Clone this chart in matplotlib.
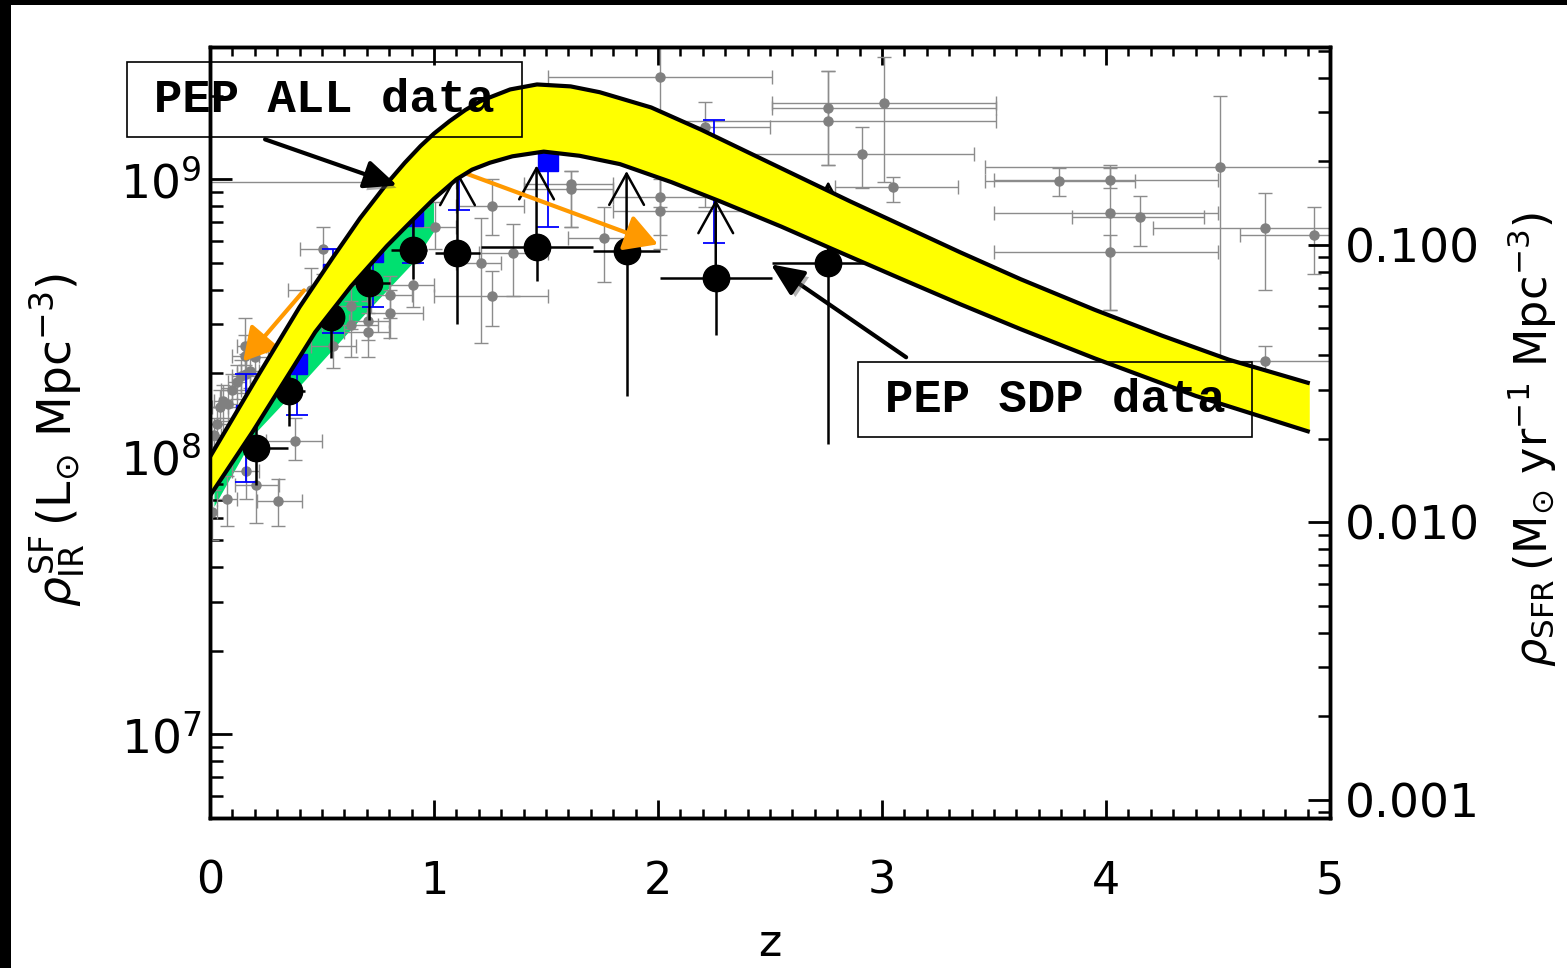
import numpy as np
import matplotlib
matplotlib.use("Agg")
import matplotlib.pyplot as plt
import matplotlib.patheffects as pe
from matplotlib.patches import Rectangle
from matplotlib.ticker import (MultipleLocator, LogLocator, FuncFormatter,
                               FixedLocator, FixedFormatter, NullFormatter)

plt.rcParams['font.family'] = ['DejaVu Sans']

# IR luminosity density, all values as log10(L_sun Mpc^-3)
# PEP ALL data: model band (upper / lower envelope)
band_up_z = [0.0, 0.22, 0.40, 0.55, 0.67, 0.79, 0.87, 0.94, 1.00, 1.07, 1.14,
             1.21, 1.34, 1.46, 1.61, 1.74, 1.97, 2.19, 2.46, 2.86, 3.35, 3.62,
             3.95, 4.25, 4.55, 4.91]
band_up = [8.00, 8.30, 8.54, 8.72, 8.86, 8.985, 9.06, 9.12, 9.165, 9.21, 9.25,
           9.283, 9.324, 9.342, 9.335, 9.314, 9.259, 9.18, 9.075, 8.92, 8.737,
           8.64, 8.53, 8.437, 8.35, 8.265]
band_lo_z = [0.0, 0.19, 0.47, 0.63, 0.79, 0.90, 1.00, 1.10, 1.17, 1.25, 1.35,
             1.49, 1.65, 1.83, 2.06, 2.28, 2.55, 2.79, 3.09, 3.35, 3.62, 3.95,
             4.40, 4.91]
band_lo = [7.86, 8.09, 8.45, 8.615, 8.76, 8.85, 8.93, 9.00, 9.035, 9.06, 9.083,
           9.10, 9.085, 9.055, 8.99, 8.92, 8.83, 8.745, 8.64, 8.55, 8.46,
           8.355, 8.22, 8.09]

# low-z band (green)
green_z = [0.02, 0.21, 0.42, 0.70, 0.91, 1.00]
green_lo = [7.82, 8.09, 8.27, 8.52, 8.70, 8.81]
green_hi = [7.90, 8.20, 8.50, 8.80, 8.97, 9.00]

# literature compilation (grey)
gray_z = [0.01, 0.02, 0.03, 0.045, 0.06, 0.08, 0.10, 0.12, 0.14, 0.16, 0.18,
          0.157, 0.157, 0.20, 0.02, 0.01, 0.076, 0.206, 0.304, 0.38, 0.16,
          0.505, 0.45, 0.63, 0.63, 0.707, 0.707, 0.805, 0.805, 0.908, 1.006,
          0.55, 0.95, 1.257, 1.208, 1.257, 1.355, 1.61, 1.61, 1.758,
          2.008, 2.008, 2.008, 2.21, 2.76, 2.76, 3.01, 2.91, 3.05,
          3.79, 4.02, 4.02, 4.02, 4.15, 4.51, 4.71, 4.93, 4.71]
gray_val = [8.02, 8.08, 8.12, 8.18, 8.20, 8.19, 8.24, 8.27, 8.29, 8.30, 8.31,
            8.362, 8.398, 8.36, 7.95, 7.80, 7.847, 7.897, 7.84, 8.059, 7.95,
            8.748, 8.60, 8.542, 8.474, 8.449, 8.49, 8.582, 8.52, 8.618, 8.827,
            8.40, 8.99, 8.903, 8.70, 8.578, 8.733, 8.982, 8.965, 8.79,
            9.368, 8.935, 8.885, 9.19, 9.256, 9.209, 9.274, 9.09, 8.971,
            8.993, 8.996, 8.88, 8.737, 8.863, 9.043, 8.823, 8.80, 8.344]
gray_zlo = [0.0, 0.0, 0.0, 0.01, 0.02, 0.04, 0.05, 0.08, 0.10, 0.12, 0.14,
            0.10, 0.12, 0.16, 0.0, 0.0, 0.03, 0.11, 0.21, 0.25, 0.10,
            0.40, 0.35, 0.55, 0.50, 0.60, 0.62, 0.70, 0.70, 0.80, 0.90,
            0.45, 0.0, 1.10, 1.10, 1.00, 1.20, 1.40, 1.40, 1.60,
            1.51, 1.80, 1.80, 2.00, 2.51, 2.00, 2.51, 1.92, 2.79,
            3.46, 3.50, 3.50, 3.50, 3.85, 3.46, 4.21, 4.60, 4.20]
gray_zhi = [0.03, 0.05, 0.06, 0.08, 0.10, 0.12, 0.14, 0.16, 0.18, 0.20, 0.22,
            0.22, 0.25, 0.26, 0.04, 0.03, 0.12, 0.31, 0.41, 0.50, 0.22,
            0.65, 0.55, 0.72, 0.75, 0.80, 0.80, 0.90, 0.95, 1.00, 1.10,
            0.65, 1.10, 1.40, 1.30, 1.51, 1.51, 1.80, 1.80, 1.90,
            2.51, 2.50, 2.50, 2.50, 3.51, 3.51, 3.51, 3.41, 3.34,
            4.13, 4.50, 4.50, 4.50, 4.44, 5.00, 5.00, 5.00, 5.00]
gray_lo = [7.96, 8.02, 8.06, 8.12, 8.14, 8.13, 8.18, 8.21, 8.23, 8.24, 8.25,
           8.30, 8.33, 8.29, 7.88, 7.70, 7.75, 7.76, 7.75, 7.99, 7.85,
           8.66, 8.52, 8.46, 8.36, 8.36, 8.42, 8.50, 8.43, 8.54, 8.75,
           8.32, 8.90, 8.80, 8.41, 8.47, 8.58, 8.83, 8.83, 8.63,
           8.90, 8.80, 8.75, 8.90, 9.05, 9.05, 8.99, 8.97, 8.92,
           8.94, 8.97, 8.53, 8.53, 8.76, 8.34, 8.60, 8.66, 8.30]
gray_hi = [8.08, 8.14, 8.18, 8.24, 8.26, 8.25, 8.30, 8.33, 8.35, 8.37, 8.38,
           8.44, 8.50, 8.42, 8.01, 7.88, 7.93, 8.00, 7.92, 8.14, 8.05,
           8.83, 8.68, 8.62, 8.56, 8.52, 8.56, 8.65, 8.60, 8.70, 8.92,
           8.48, 9.10, 9.00, 8.86, 8.67, 8.84, 9.03, 9.03, 8.90,
           9.48, 9.05, 9.00, 9.28, 9.39, 9.39, 9.44, 9.19, 9.01,
           9.04, 9.05, 9.04, 8.80, 8.94, 9.30, 8.95, 8.90, 8.40]

# blue squares
blue_z = [0.16, 0.39, 0.55, 0.73, 0.905, 1.11, 1.51, 2.25]
blue_val = [8.15, 8.333, 8.66, 8.74, 8.867, 9.06, 9.065, 9.00]
blue_lo = [7.91, 8.15, 8.445, 8.54, 8.70, 8.888, 8.827, 8.77]
blue_hi = [8.30, 8.45, 8.75, 8.85, 9.00, 9.20, 9.30, 9.213]

# PEP SDP data (black circles), last five are lower limits
sdp_z = [0.206, 0.353, 0.541, 0.711, 0.908, 1.105, 1.458, 1.86, 2.258, 2.76]
sdp_val = [8.031, 8.236, 8.503, 8.625, 8.744, 8.733, 8.755, 8.741, 8.643, 8.697]
sdp_zlo = [0.07, 0.28, 0.47, 0.62, 0.81, 1.006, 1.21, 1.71, 2.01, 2.51]
sdp_zhi = [0.35, 0.425, 0.59, 0.805, 0.97, 1.207, 1.71, 2.01, 2.51, 3.01]
sdp_lo = [7.90, 8.11, 8.355, 8.495, 8.64, 8.48, 8.632, 8.22, 8.44, 8.045]
sdp_hi = [8.15, 8.40, 8.62, 8.75, 8.90, 9.029, 9.05, 9.03, 8.928, 8.993]
sdp_limit = [False, False, False, False, False, True, True, True, True, True]

# L_IR -> SFR conversion for the right-hand axis
k_sfr = 1.72e-10


def lin(a):
    return 10 ** np.asarray(a, dtype=float)


fig = plt.figure(figsize=(15.67, 9.68), dpi=100)
ax = fig.add_axes([0.134, 0.155, 0.7147, 0.7965])
ax.set_xlim(0, 5)
ax.set_yscale('log')
ax.set_ylim(5.0e6, 3.0e9)

# green band
gz = np.asarray(green_z)
ax.fill(np.concatenate([gz, gz[::-1]]),
        np.concatenate([lin(green_lo), lin(green_hi)[::-1]]),
        color='#00E070', lw=0, zorder=1.5)

# grey compilation
gz2 = np.asarray(gray_z)
gv = lin(gray_val)
ax.errorbar(gz2, gv,
            xerr=[gz2 - np.asarray(gray_zlo), np.asarray(gray_zhi) - gz2],
            yerr=[gv - lin(gray_lo), lin(gray_hi) - gv],
            fmt='o', color='#808080', ecolor='#8c8c8c', ms=6.5,
            elinewidth=1.0, capsize=5, capthick=1.0, zorder=2)

# blue squares
bz = np.asarray(blue_z)
bv = lin(blue_val)
ax.errorbar(bz, bv, yerr=[bv - lin(blue_lo), lin(blue_hi) - bv],
            fmt='s', color='#0000ff', ms=15, elinewidth=1.3,
            capsize=8, capthick=1.3, zorder=3)

# PEP SDP points
sz = np.asarray(sdp_z)
sv = lin(sdp_val)
lim = np.asarray(sdp_limit)
up = np.where(lim, 0.0, lin(sdp_hi) - sv)
ax.errorbar(sz, sv,
            xerr=[sz - np.asarray(sdp_zlo), np.asarray(sdp_zhi) - sz],
            yerr=[sv - lin(sdp_lo), up],
            fmt='o', color='black', ms=19, elinewidth=1.8, capsize=0,
            zorder=4)
for z, v, hi, is_lim in zip(sz, sv, lin(sdp_hi), lim):
    if is_lim:
        ax.annotate('', xy=(z, hi), xytext=(z, v),
                    arrowprops=dict(arrowstyle='->,head_length=0.9,head_width=0.5',
                                    color='black', lw=1.8, mutation_scale=25,
                                    shrinkA=0, shrinkB=0),
                    zorder=4)

# orange arrows
orange_style = dict(arrowstyle='-|>,head_length=0.8,head_width=0.45',
                    color='#ff9900', lw=3, mutation_scale=25,
                    shrinkA=0, shrinkB=0)
ax.annotate('', xy=(0.148, 10 ** 8.344), xytext=(0.42, 10 ** 8.60),
            arrowprops=orange_style, zorder=4.5)
ax.annotate('', xy=(2.0, 10 ** 8.766), xytext=(1.13, 10 ** 9.025),
            arrowprops=orange_style, zorder=4.5)

# yellow band with black edges
uz = np.asarray(band_up_z)
lz = np.asarray(band_lo_z)
ax.fill(np.concatenate([uz, lz[::-1]]),
        np.concatenate([lin(band_up), lin(band_lo)[::-1]]),
        color='#ffff00', lw=0, zorder=5)
ax.plot(uz, lin(band_up), color='black', lw=3, zorder=5.1,
        solid_capstyle='butt', solid_joinstyle='round')
ax.plot(lz, lin(band_lo), color='black', lw=3, zorder=5.1,
        solid_capstyle='butt', solid_joinstyle='round')

# black pointer arrows with a soft shadow
shadow = [pe.SimplePatchShadow(offset=(3, -3), shadow_rgbFace='#555555',
                               alpha=0.45), pe.Normal()]
black_style = dict(arrowstyle='-|>,head_length=0.8,head_width=0.35',
                   color='black', lw=3, mutation_scale=25,
                   shrinkA=0, shrinkB=0)
a1 = ax.annotate('', xy=(0.836, 10 ** 8.978), xytext=(0.246, 10 ** 9.144),
                 arrowprops=black_style, zorder=10, annotation_clip=False)
a2 = ax.annotate('', xy=(2.504, 10 ** 8.694), xytext=(3.108, 10 ** 8.359),
                 arrowprops=black_style, zorder=10, annotation_clip=False)
for a in (a1, a2):
    a.arrow_patch.set_path_effects(shadow)

# axes styling
for sp in ax.spines.values():
    sp.set_linewidth(2.5)
ax.xaxis.set_major_locator(MultipleLocator(1))
ax.xaxis.set_minor_locator(MultipleLocator(0.1))
ax.yaxis.set_major_locator(LogLocator(base=10, numticks=10))
ax.yaxis.set_minor_locator(LogLocator(base=10, subs=np.arange(2, 10), numticks=20))
ax.yaxis.set_minor_formatter(NullFormatter())
ax.yaxis.set_major_formatter(FuncFormatter(
    lambda v, p: r'$\mathregular{10^{%d}}$' % int(round(np.log10(v)))))
ax.tick_params(axis='x', which='major', direction='in', length=13, width=2,
               top=True, pad=30, labelsize=32)
ax.tick_params(axis='x', which='minor', direction='in', length=6.5, width=1.8,
               top=True)
ax.tick_params(axis='y', which='major', direction='in', length=16, width=2,
               right=False, pad=6, labelsize=34)
ax.tick_params(axis='y', which='minor', direction='in', length=9, width=1.8,
               right=False)
ax.set_xlabel('z', fontsize=32, labelpad=14)
ax.set_ylabel(r'$\rho_{\rm IR}^{\rm SF}\,(\mathrm{L}_{\odot}\ \mathrm{Mpc}^{-3})$',
              fontsize=34)
ax.yaxis.set_label_coords(-0.110, 0.49)

# SFR axis on the right
ax2 = ax.twinx()
ax2.set_yscale('log')
ax2.set_ylim(5.0e6 * k_sfr, 3.0e9 * k_sfr)
sfr_ticks = [0.001, 0.01, 0.1]
ax2.yaxis.set_major_locator(FixedLocator(sfr_ticks))
ax2.yaxis.set_major_formatter(FixedFormatter(['0.001', '0.010', '0.100']))
ax2.yaxis.set_minor_locator(LogLocator(base=10, subs=np.arange(2, 10), numticks=20))
ax2.yaxis.set_minor_formatter(NullFormatter())
ax2.tick_params(axis='y', which='major', direction='in', length=16, width=2,
                pad=11, labelsize=34)
ax2.tick_params(axis='y', which='minor', direction='in', length=9, width=1.8)
for sp in ax2.spines.values():
    sp.set_linewidth(2.5)
ax2.set_ylabel(r'$\rho_{\rm SFR}\,(\mathrm{M}_{\odot}\ \mathrm{yr}^{-1}\ \mathrm{Mpc}^{-3})$',
               fontsize=32)
ax2.yaxis.set_label_coords(1.157, 0.49)

# labelled boxes
for (x0, y0, x1, y1), label in [((127, 62, 522, 137), 'PEP ALL data'),
                                ((858, 362, 1252, 437), 'PEP SDP data')]:
    W, H = 1567.0, 968.0
    fig.add_artist(Rectangle((x0 / W, 1 - y1 / H), (x1 - x0) / W, (y1 - y0) / H,
                             transform=fig.transFigure, fill=False,
                             ec='black', lw=1.2, zorder=10))
    fig.text((x0 + x1) / 2 / W, 1 - (y0 + y1) / 2 / H, label,
             ha='center', va='center', fontsize=34, fontweight='bold',
             family=['Liberation Mono', 'DejaVu Sans Mono'], zorder=11)

# dark strips along the top and left edges
fig.add_artist(Rectangle((0, 1 - 5 / 968), 1, 5 / 968, transform=fig.transFigure,
                         color='black', lw=0, zorder=20))
fig.add_artist(Rectangle((0, 0), 11 / 1567, 1, transform=fig.transFigure,
                         color='black', lw=0, zorder=20))

fig.savefig('out.png', dpi=100)
